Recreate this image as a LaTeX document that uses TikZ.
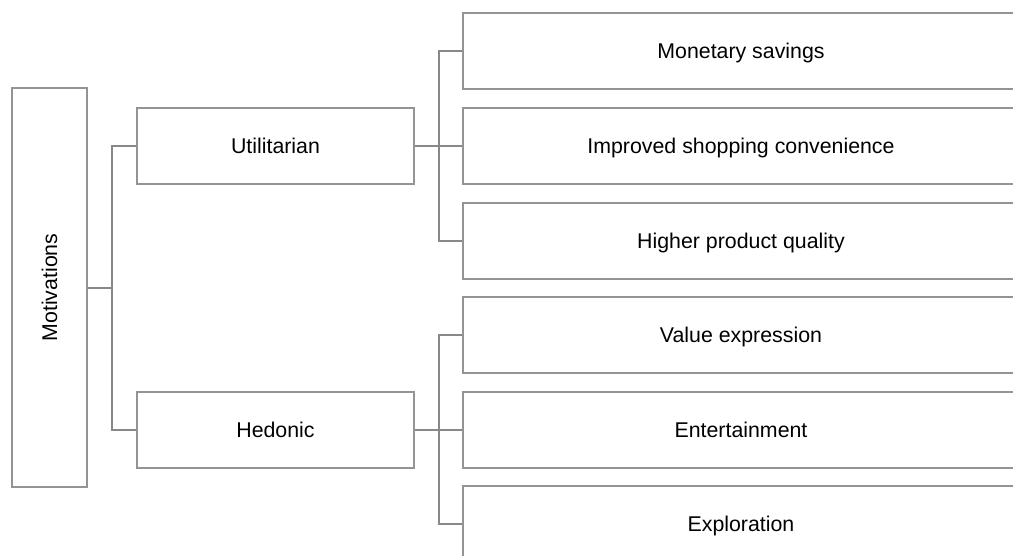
\documentclass[tikz,border=0pt]{standalone}
\usepackage{fontspec}
\setmainfont{Liberation Sans}
\definecolor{boxline}{RGB}{148,148,148}
\definecolor{linkline}{RGB}{136,136,136}
\begin{document}
\begin{tikzpicture}[x=0.75pt,y=-0.75pt,
  every node/.style={font=\fontsize{16}{19}\selectfont, inner sep=0pt,
    text height=11.5pt, text depth=0pt},
  box/.style={draw=boxline, line width=1.5pt, fill=white, rectangle},
  leafbox/.style={box, minimum width=417pt, minimum height=57pt},
  midbox/.style={box, minimum width=207.75pt, minimum height=57pt},
  rootbox/.style={box, minimum width=56.25pt, minimum height=299.25pt},
  link/.style={draw=linkline, line width=1.5pt}]
\useasboundingbox (0,0) rectangle (1013,556);
\clip (0,0) rectangle (1013,556);

% root
\node[rootbox] (mot) at (49.5,287.5) {};
\node[rotate=90] (motlabel) at (mot.center) {Motivations};

% second level
\node[midbox] (util) at (275.5,146) {Utilitarian};
\node[midbox] (hed) at (275.5,429.5) {Hedonic};

% leaves
\node[leafbox] (m1) at (741,51)    {Monetary savings};
\node[leafbox] (m2) at (741,146)   {Improved shopping convenience};
\node[leafbox] (m3) at (741,240.5) {Higher product quality};
\node[leafbox] (h1) at (741,335)   {Value expression};
\node[leafbox] (h2) at (741,429.5) {Entertainment};
\node[leafbox] (h3) at (741,524)   {Exploration};

% bus coordinates
\coordinate (busroot) at (112,287.5);
\coordinate (busutil) at (439,146);
\coordinate (bushed)  at (439,429.5);

% root to second level
\draw[link] (mot.east) -- (busroot);
\draw[link] (util.west) -| (busroot) |- (hed.west);

% utilitarian to leaves
\draw[link] (util.east) -- (m2.west);
\draw[link] (m1.west) -| (busutil) |- (m3.west);

% hedonic to leaves
\draw[link] (hed.east) -- (h2.west);
\draw[link] (h1.west) -| (bushed) |- (h3.west);
\end{tikzpicture}
\end{document}
